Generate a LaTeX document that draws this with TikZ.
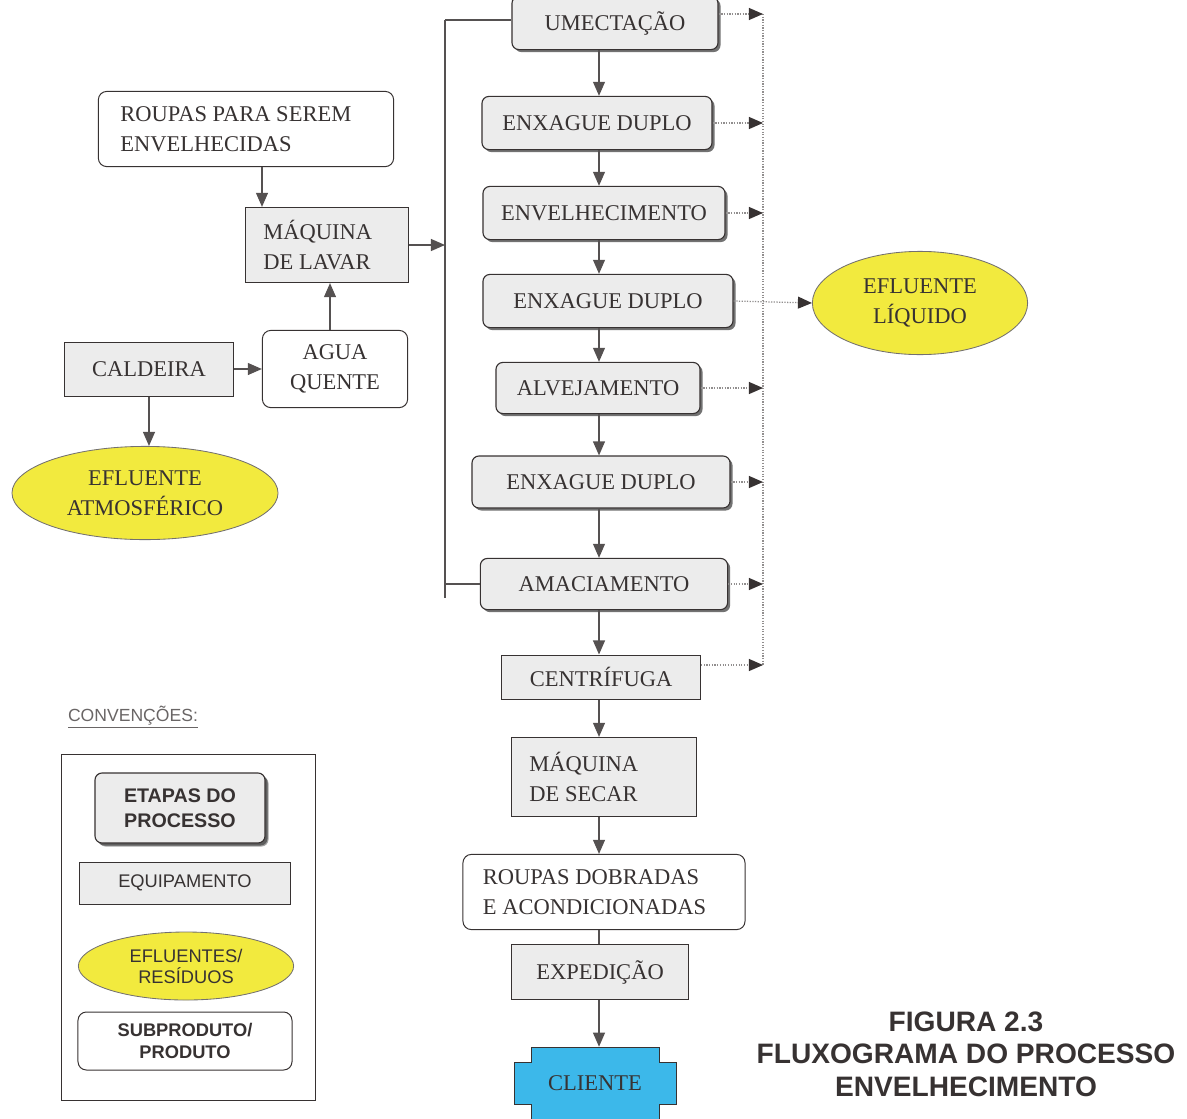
\documentclass[tikz,border=0pt]{standalone}
\usepackage{fontspec}
\setmainfont{Liberation Serif}
\setsansfont{Liberation Sans}
\usetikzlibrary{shapes.geometric}
\usetikzlibrary{shadows}
\usetikzlibrary{arrows.meta}

\definecolor{boxgray}{RGB}{236,236,236}
\definecolor{efyellow}{RGB}{242,234,62}
\definecolor{cliblue}{RGB}{60,184,234}
\definecolor{ink}{RGB}{55,50,50}

\begin{document}
\begin{tikzpicture}[x=0.025cm, y=-0.025cm,
    every node/.style={text=ink, font=\fontsize{16}{21}\selectfont, align=center, inner sep=0pt},
    etapa/.style={draw=ink, line width=0.8pt, rounded corners=5pt, fill=boxgray,
      drop shadow={shadow xshift=1.8pt, shadow yshift=-1.8pt, fill=black!65, opacity=0.85}},
    equip/.style={draw=ink, line width=0.7pt, fill=boxgray},
    produto/.style={draw=ink, line width=0.7pt, rounded corners=6pt, fill=white},
    efluente/.style={ellipse, draw=ink!70, line width=0.6pt, fill=efyellow},
    legtxt/.style={font=\sffamily\fontsize{13}{16}\selectfont},
    line/.style={draw=ink!85, line width=0.9pt},
    flow/.style={line, -{Triangle[length=10pt, width=8.5pt]}},
    drain/.style={draw=ink!55, densely dotted, line width=0.9pt},
    drainflow/.style={drain, -{Triangle[length=10pt, width=8.5pt, color=ink, fill=ink]}}
  ]
  \useasboundingbox (0,0) rectangle (1187,1118);

  % guide lines
  \coordinate (xin) at (262,0);
  \coordinate (xup) at (330,0);
  \coordinate (axis) at (599,0);
  \coordinate (bus) at (445,20);
  \coordinate (busend) at (445,598);
  \coordinate (drn) at (763,14);
  \coordinate (drnend) at (763,665);

  % process column
  \node[etapa, minimum width=5.15cm, minimum height=1.33cm] (umect) at (615,23) {UMECTAÇÃO};
  \node[etapa, minimum width=5.75cm, minimum height=1.33cm] (enx1) at (597,123) {ENXAGUE DUPLO};
  \node[etapa, minimum width=6.05cm, minimum height=1.33cm] (env) at (604,213) {ENVELHECIMENTO};
  \node[etapa, minimum width=6.25cm, minimum height=1.33cm] (enx2) at (608,301) {ENXAGUE DUPLO};
  \node[etapa, minimum width=5.1cm, minimum height=1.28cm] (alv) at (598,388) {ALVEJAMENTO};
  \node[etapa, minimum width=6.45cm, minimum height=1.3cm] (enx3) at (601,482) {ENXAGUE DUPLO};
  \node[etapa, minimum width=6.18cm, minimum height=1.28cm] (amac) at (604,584) {AMACIAMENTO};
  \node[equip, minimum width=4.98cm, minimum height=1.1cm] (cent) at (601,677) {CENTRÍFUGA};
  \node[equip, text width=3.73cm, inner xsep=0.45cm, minimum height=1.98cm, align=flush left] (msec) at (604,777) {MÁQUINA\\DE SECAR};
  \node[produto, text width=6.05cm, inner xsep=0.5cm, minimum height=1.88cm, align=flush left] (rdobr) at (604,892) {ROUPAS DOBRADAS\\E ACONDICIONADAS};
  \node[equip, minimum width=4.4cm, minimum height=1.38cm] (exped) at (600,972) {EXPEDIÇÃO};

  % client
  \coordinate (clipos) at (595,1083);
  \begin{scope}[shift={(clipos)}]
    \filldraw[fill=cliblue, draw=ink, line width=0.7pt] (-64,-36) -- (64,-36) -- (64,-21) -- (81,-21) -- (81,21)
      -- (64,21) -- (64,36) -- (-64,36) -- (-64,21) -- (-81,21) -- (-81,-21) -- (-64,-21) -- cycle;
  \end{scope}
  \node[minimum width=3.2cm, minimum height=1.8cm] (cliente) at (clipos) {CLIENTE};

  % left side
  \node[produto, text width=6.28cm, inner xsep=0.55cm, minimum height=1.88cm, align=flush left] (roupas) at (246,129) {ROUPAS PARA SEREM\\ENVELHECIDAS};
  \node[equip, text width=3.18cm, inner xsep=0.45cm, minimum height=1.88cm, align=flush left] (mlavar) at (327,245) {MÁQUINA\\DE LAVAR};
  \node[produto, minimum width=3.63cm, minimum height=1.93cm] (agua) at (335,369) {AGUA\\QUENTE};
  \node[equip, minimum width=4.2cm, minimum height=1.35cm] (cald) at (149,369) {CALDEIRA};
  \node[efluente, minimum width=6.65cm, minimum height=2.33cm] (efatm) at (145,493) {EFLUENTE\\ATMOSFÉRICO};
  \node[efluente, minimum width=5.38cm, minimum height=2.58cm] (efliq) at (920,303) {EFLUENTE\\LÍQUIDO};

  % connectors
  \draw[flow] (roupas.south -| xin) -- (mlavar.north -| xin);
  \draw[flow] (agua.north -| xup) -- (mlavar.south -| xup);
  \draw[flow] (cald) -- (agua);
  \draw[flow] (cald.south) -- (cald.south |- efatm.north);
  \draw[flow] (mlavar.east) -- (mlavar.east -| bus);
  \draw[line] (bus) -- (busend);
  \draw[line] (bus) -- (umect.west |- bus);
  \draw[line] (amac.west) -- (amac.west -| bus);

  \foreach \a/\b in {umect/enx1, enx1/env, env/enx2, enx2/alv, alv/enx3, enx3/amac,
                     amac/cent, cent/msec, msec/rdobr, exped/cliente}
    \draw[flow] (\a.south -| axis) -- (\b.north -| axis);
  \draw[line] (rdobr.south -| axis) -- (exped.north -| axis);

  % drains to the right
  \draw[drain] (drn) -- (drnend);
  \draw[drainflow] (umect.east |- drn) -- (drn);
  \foreach \s in {enx1, env, alv, enx3, amac}
    \draw[drainflow] (\s.east) -- (\s.east -| drn);
  \draw[drainflow] (cent.east |- drnend) -- (drnend);
  \draw[drainflow] (enx2.east) -- (efliq.west);

  % legend
  \node[legtxt, font=\sffamily\fontsize{12.5}{15}\selectfont, text=ink!75] (conv) at (133,717) {\underline{CONVENÇÕES:}};
  \node[draw=ink, line width=0.8pt, minimum width=6.33cm, minimum height=8.63cm] (legenda) at (188.5,927.5) {};
  \node[etapa, drop shadow={shadow xshift=2.5pt, shadow yshift=-2.5pt, fill=black!70},
    font=\sffamily\bfseries\fontsize{14}{18}\selectfont, minimum width=4.25cm, minimum height=1.75cm] (letapa) at (180,808) {ETAPAS DO\\PROCESSO};
  \node[equip, legtxt, minimum width=5.25cm, minimum height=1.05cm] (lequip) at (185,883) {EQUIPAMENTO};
  \node[efluente, legtxt, font=\sffamily\fontsize{13}{15}\selectfont, minimum width=5.38cm, minimum height=1.7cm] (lefl) at (186,966) {EFLUENTES/\\RESÍDUOS};
  \node[produto, font=\sffamily\bfseries\fontsize{13}{16}\selectfont, minimum width=5.35cm, minimum height=1.45cm] (lsub) at (185,1041) {SUBPRODUTO/\\PRODUTO};

  % caption
  \node[font=\sffamily\bfseries\fontsize{20}{23}\selectfont] (titulo) at (966,1054) {FIGURA 2.3\\FLUXOGRAMA DO PROCESSO\\ENVELHECIMENTO};
\end{tikzpicture}
\end{document}
